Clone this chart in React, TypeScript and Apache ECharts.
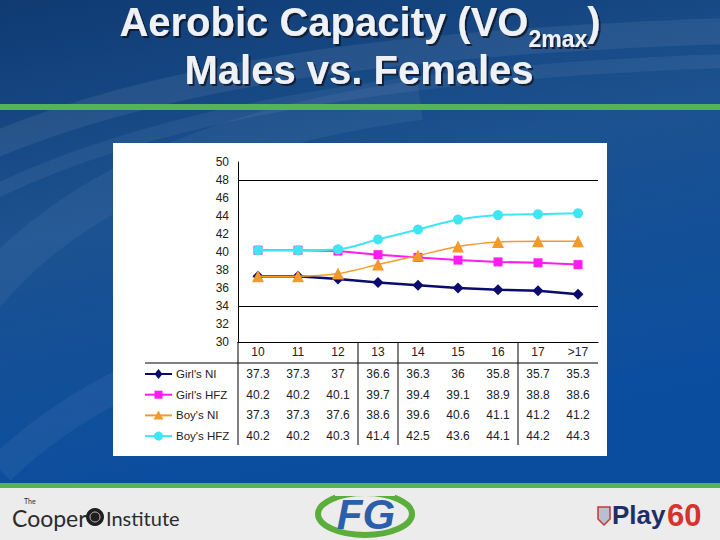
import { useEffect, useRef } from "react";
import * as echarts from "echarts";

// Age groups along the x axis / table header
const ages = ["10", "11", "12", "13", "14", "15", "16", "17", ">17"];

// VO2max values per age group
const girlsNI = [37.3, 37.3, 37, 36.6, 36.3, 36, 35.8, 35.7, 35.3];
const girlsHFZ = [40.2, 40.2, 40.1, 39.7, 39.4, 39.1, 38.9, 38.8, 38.6];
const boysNI = [37.3, 37.3, 37.6, 38.6, 39.6, 40.6, 41.1, 41.2, 41.2];
const boysHFZ = [40.2, 40.2, 40.3, 41.4, 42.5, 43.6, 44.1, 44.2, 44.3];

const seriesNames = ["Girl's NI", "Girl's HFZ", "Boy's NI", "Boy's HFZ"];
const seriesData = [girlsNI, girlsHFZ, boysNI, boysHFZ];

// Value axis range and the horizontal rules drawn across the plot
const yMin = 30;
const yMax = 50;
const yStep = 2;
const ruleValues = [48, 34];

// Column boundaries of the data table that carry a vertical rule (after these indices)
const tableRuleAfter = [2, 3, 6];

const FONT = "'Liberation Sans', Arial, Helvetica, sans-serif";

const looks = [
  { color: "#0b0b6e", symbol: "diamond", size: 11, width: 2.5, smooth: false },
  { color: "#ff1cf0", symbol: "rect", size: 9, width: 2, smooth: false },
  { color: "#f49a2a", symbol: "triangle", size: 12, width: 1.5, smooth: 0.3 },
  { color: "#3ee6f2", symbol: "circle", size: 10, width: 2, smooth: 0.3 },
];

const grid = { left: 238, top: 162, right: 122, bottom: 198 };

function markerShape(kind: string, cx: number, cy: number, color: string) {
  if (kind === "diamond") {
    return {
      type: "polygon",
      shape: { points: [[cx, cy - 5], [cx + 4, cy], [cx, cy + 5], [cx - 4, cy]] },
      style: { fill: color },
      z: 20,
    };
  }
  if (kind === "rect") {
    return { type: "rect", shape: { x: cx - 4, y: cy - 4, width: 8, height: 8 }, style: { fill: color }, z: 20 };
  }
  if (kind === "triangle") {
    return {
      type: "polygon",
      shape: { points: [[cx, cy - 5], [cx + 5, cy + 4], [cx - 5, cy + 4]] },
      style: { fill: color },
      z: 20,
    };
  }
  return { type: "circle", shape: { cx, cy, r: 4.5 }, style: { fill: color }, z: 20 };
}

function plainText(x: number, y: number, text: string, extra: any, align = "left") {
  return {
    type: "text",
    z: 10,
    x,
    y,
    style: {
      text,
      align,
      verticalAlign: "middle",
      textAlign: align,
      textVerticalAlign: "middle",
      ...extra,
    },
  };
}

function backdrop() {
  const els: any[] = [];
  // slide body
  els.push({
    type: "rect",
    z: -30,
    shape: { x: 0, y: 0, width: 720, height: 486 },
    style: {
      fill: new echarts.graphic.LinearGradient(0, 0, 0.3, 1, [
        { offset: 0, color: "#0f3a72" },
        { offset: 0.45, color: "#1c5290" },
        { offset: 1, color: "#0a4d9f" },
      ]),
    },
  });
  // soft light sweeps
  const sweeps = [
    { x1: -40, y1: 160, c1x: 150, c1y: 70, c2x: 420, c2y: 40, x2: 760, y2: 30, w: 26, o: 0.07 },
    { x1: -40, y1: 210, c1x: 120, c1y: 120, c2x: 380, c2y: 70, x2: 760, y2: 60, w: 14, o: 0.06 },
    { x1: -20, y1: 300, c1x: 60, c1y: 200, c2x: 200, c2y: 130, x2: 420, y2: 100, w: 40, o: 0.05 },
    { x1: 0, y1: 470, c1x: 40, c1y: 430, c2x: 90, c2y: 400, x2: 130, y2: 380, w: 30, o: 0.05 },
  ];
  sweeps.forEach((s) =>
    els.push({
      type: "bezierCurve",
      z: -29,
      shape: { x1: s.x1, y1: s.y1, cpx1: s.c1x, cpy1: s.c1y, cpx2: s.c2x, cpy2: s.c2y, x2: s.x2, y2: s.y2 },
      style: { stroke: `rgba(255,255,255,${s.o})`, lineWidth: s.w, fill: null },
    })
  );
  // green rules
  els.push({ type: "rect", z: -28, shape: { x: 0, y: 104, width: 720, height: 6 }, style: { fill: "#55b455" } });
  els.push({ type: "rect", z: -28, shape: { x: 0, y: 483, width: 720, height: 5 }, style: { fill: "#55b455" } });
  // footer
  els.push({ type: "rect", z: -28, shape: { x: 0, y: 488, width: 720, height: 52 }, style: { fill: "#ececec" } });
  // chart panel
  els.push({ type: "rect", z: -20, shape: { x: 113, y: 143, width: 494, height: 313 }, style: { fill: "#ffffff" } });

  // title
  const shadow = { textShadowColor: "rgba(20,20,30,0.75)", textShadowOffsetX: 2, textShadowOffsetY: 2, textShadowBlur: 1 };
  els.push({
    type: "text",
    z: 10,
    x: 360,
    y: -6,
    style: {
      text: "{a|Aerobic Capacity (VO}{s|2max}{a|)}",
      align: "center",
      verticalAlign: "top",
      textAlign: "center",
      textVerticalAlign: "top",
      rich: {
        a: { fontFamily: FONT, fontSize: 40, fontWeight: "bold", fill: "#eef1f5", lineHeight: 56, ...shadow },
        s: { fontFamily: FONT, fontSize: 23, fontWeight: "bold", fill: "#eef1f5", lineHeight: 24, verticalAlign: "bottom", ...shadow },
      },
    },
  });
  els.push(
    plainText(359, 70, "Males vs. Females",
      { fontFamily: FONT, fontSize: 40, fontWeight: "bold", fill: "#eef1f5", ...shadow }, "center")
  );

  // footer logos: The Cooper Institute
  const lato = { fontFamily: "Lato, 'Open Sans', sans-serif", fill: "#2b2b2b" };
  els.push(plainText(12, 518, "Cooper", { ...lato, fontSize: 23 }));
  els.push(plainText(24, 501, "The", { ...lato, fontSize: 7 }));
  els.push({ type: "circle", z: 10, shape: { cx: 95, cy: 517, r: 9 }, style: { fill: "#1f1f1f" } });
  els.push({ type: "circle", z: 11, shape: { cx: 95, cy: 517, r: 5 }, style: { fill: "none", stroke: "#bdbdbd", lineWidth: 1 } });
  els.push(plainText(106, 518, "Institute", { ...lato, fontSize: 20 }));

  // FG mark
  els.push({ type: "ellipse", z: 10, shape: { cx: 365, cy: 514, rx: 47, ry: 21 }, style: { fill: "none", stroke: "#5cae3c", lineWidth: 6 } });
  els.push({ type: "rect", z: 11, shape: { x: 335, y: 488, width: 60, height: 8 }, style: { fill: "#ececec" } });
  els.push({
    ...plainText(366, 514, "FG",
      { fontFamily: FONT, fontSize: 42, fontWeight: "bold", fontStyle: "italic", fill: "#2c5fab" }, "center"),
    z: 12,
  });

  // NFL Play 60 mark
  els.push({
    type: "polygon", z: 10,
    shape: { points: [[598, 507], [610, 507], [610, 519], [604, 525], [598, 519]] },
    style: { fill: "#b8bfd0", stroke: "#c23a3a", lineWidth: 1.5 },
  });
  els.push(plainText(612, 515, "Play", { fontFamily: FONT, fontSize: 26, fontWeight: "bold", fill: "#1e2f66" }));
  els.push(plainText(667, 515, "60", { fontFamily: FONT, fontSize: 31, fontWeight: "bold", fill: "#d8322c" }));
  return els;
}

export default function App() {
  const ref = useRef<HTMLDivElement>(null);

  useEffect(() => {
    const chart = echarts.init(ref.current!, null, { renderer: "svg" });

    chart.setOption({
      animation: false,
      grid: { ...grid, containLabel: false },
      xAxis: {
        type: "category",
        data: ages,
        boundaryGap: true,
        axisLine: { show: true, lineStyle: { color: "#000", width: 1 } },
        axisTick: { show: false },
        axisLabel: { color: "#222", fontFamily: FONT, fontSize: 12, margin: 4 },
        splitLine: { show: false },
      },
      yAxis: {
        type: "value",
        min: yMin,
        max: yMax,
        interval: yStep,
        axisLine: { show: true, lineStyle: { color: "#000", width: 1 } },
        axisTick: { show: false },
        axisLabel: { color: "#222", fontFamily: FONT, fontSize: 12, margin: 9 },
        splitLine: { show: false },
      },
      series: seriesNames.map((name, i) => ({
        name,
        type: "line",
        data: seriesData[i],
        symbol: looks[i].symbol,
        symbolSize: looks[i].size,
        smooth: looks[i].smooth,
        showSymbol: true,
        lineStyle: { color: looks[i].color, width: looks[i].width },
        itemStyle: { color: looks[i].color },
        z: 3 + i,
        markLine:
          i === 0
            ? {
                silent: true,
                symbol: ["none", "none"],
                label: { show: false },
                lineStyle: { color: "#000", width: 1, type: "solid" },
                data: ruleValues.map((v) => ({ yAxis: v })),
              }
            : undefined,
      })),
    });

    // Data table underneath the plot, laid out on the category axis positions
    const xs = ages.map((a) => chart.convertToPixel({ xAxisIndex: 0 }, a) as number);
    const half = (xs[1] - xs[0]) / 2;
    const plotLeft = xs[0] - half;
    const plotRight = xs[xs.length - 1] + half;
    const plotBottom = chart.convertToPixel({ yAxisIndex: 0 }, yMin) as number;
    const headerRuleY = plotBottom + 21;
    const tableBottom = plotBottom + 103;
    const rowY = seriesNames.map((_, r) => plotBottom + 32 + r * 20.7);

    const table: any[] = [];
    table.push({
      type: "line", z: 5,
      shape: { x1: 145, y1: headerRuleY, x2: plotRight, y2: headerRuleY },
      style: { stroke: "#000", lineWidth: 1 },
    });
    table.push({
      type: "line", z: 5,
      shape: { x1: plotLeft, y1: plotBottom, x2: plotLeft, y2: tableBottom },
      style: { stroke: "#000", lineWidth: 1 },
    });
    tableRuleAfter.forEach((k) => {
      const x = (xs[k] + xs[k + 1]) / 2;
      table.push({
        type: "line", z: 5,
        shape: { x1: x, y1: plotBottom, x2: x, y2: tableBottom },
        style: { stroke: "#000", lineWidth: 1 },
      });
    });
    seriesNames.forEach((name, r) => {
      const y = rowY[r];
      const lk = looks[r];
      table.push({
        type: "line", z: 19,
        shape: { x1: 145, y1: y, x2: 172, y2: y },
        style: { stroke: lk.color, lineWidth: 2 },
      });
      table.push(markerShape(lk.symbol, 158.5, y, lk.color));
      table.push({
        ...plainText(176, y, name, { fontFamily: FONT, fontSize: 11.5, fill: "#222" }),
        z: 20,
      });
      seriesData[r].forEach((v, i) => {
        table.push({
          ...plainText(xs[i], y, String(v), { fontFamily: FONT, fontSize: 12, fill: "#222" }, "center"),
          z: 20,
        });
      });
    });

    chart.setOption({ graphic: [...backdrop(), ...table] });

    return () => chart.dispose();
  }, []);

  return (
    <div
      ref={ref}
      style={{ position: "absolute", left: 0, top: 0, width: 720, height: 540 }}
    />
  );
}
